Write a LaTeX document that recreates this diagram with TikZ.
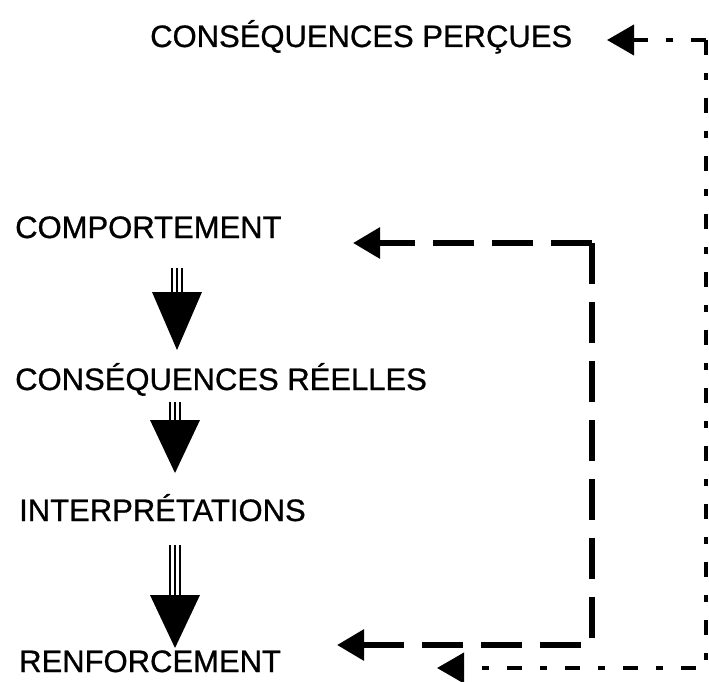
\documentclass[tikz,border=0pt]{standalone}
\usepackage{fontspec}
\setmainfont{Liberation Sans}[FakeBold=0.8]
\usetikzlibrary{arrows.meta}

% filled downward block arrow: three shaft lines above a solid triangle
% #1 x of the axis, #2 top of the shaft, #3 top of the triangle, #4 tip, #5 half width
\newcommand\blockdown[5]{%
  \foreach \dx in {-5,0,5} \draw[line width=2.8pt] (#1+\dx,-#2) -- (#1+\dx,-#3);
  \fill (#1-#5,-#3) -- (#1+#5,-#3) -- (#1,-#4) -- cycle;}

\begin{document}
\begin{tikzpicture}[x=1pt,y=1pt,
  label/.style={anchor=base west,inner sep=0pt,font=\fontsize{31}{37}\selectfont},
  bigloop/.style={line width=6pt,dash pattern=on 41pt off 18pt},
  smallloop/.style={line width=4pt,dash pattern=on 15pt off 18pt on 7pt off 18pt},
  head/.style={-{Triangle[length=27pt,width=30pt]}}]
\useasboundingbox (0,0) rectangle (709,-682);

% the chain of steps
\node[label] (percues) at (150,-47) {CONSÉQUENCES PERÇUES};
\node[label] (comport) at (15,-238) {COMPORTEMENT};
\node[label] (reelles) at (15,-390) {CONSÉQUENCES RÉELLES};
\node[label] (interp)  at (19,-521) {INTERPRÉTATIONS};
\node[label] (renf)    at (19,-672) {RENFORCEMENT};

% block arrows between the steps
\blockdown{177}{268}{292}{350}{25}
\blockdown{175}{402}{420}{473}{25}
\blockdown{175}{545}{595}{648}{25}

% inner feedback loop (heavy dashes)
\coordinate (innerTop)   at (592,-243);
\coordinate (innerBot)   at (592,-645);
\coordinate (toComport)  at (353,-243);
\coordinate (toRenfA)    at (337,-645);
\draw[bigloop,head] (innerTop) -- (toComport);
\draw[bigloop,head] (innerTop) -- (innerBot) -- (toRenfA);

% outer feedback loop (dash and dot)
\coordinate (outerTop)   at (706,-40);
\coordinate (outerBot)   at (706,-668);
\coordinate (toPercues)  at (607,-40);
\coordinate (toRenfB)    at (437,-668);
\draw[smallloop,head] (outerTop) -- (toPercues);
\draw[smallloop,head] (outerTop) -- (outerBot) -- (toRenfB);
\end{tikzpicture}
\end{document}
